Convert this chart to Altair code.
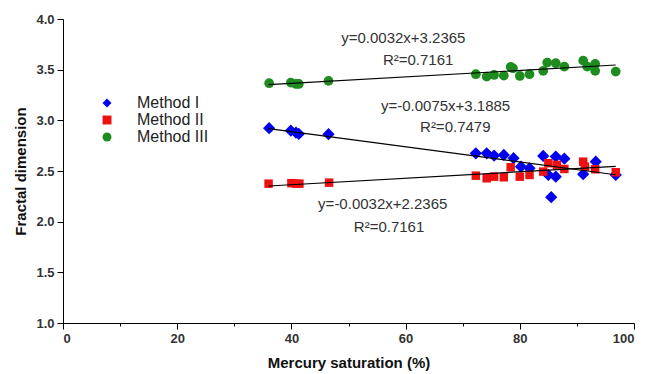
import altair as alt
import pandas as pd

# ---- data ----
x_I = [36.1, 39.9, 40.8, 41.3, 46.5, 72.3, 74.2, 75.5, 77.2, 78.9, 80.2, 81.7,
       84.1, 85.0, 86.3, 86.3, 87.8, 85.5, 91.1, 93.3, 96.8]
y_I = [2.922, 2.898, 2.879, 2.866, 2.863, 2.675, 2.675, 2.652, 2.658, 2.626, 2.543, 2.527,
       2.649, 2.461, 2.642, 2.444, 2.622, 2.241, 2.468, 2.592, 2.461]

x_II = [36.0, 40.0, 40.8, 41.4, 46.6, 72.3, 74.2, 75.5, 77.2, 78.4, 80.0, 81.7,
        84.1, 85.0, 86.5, 87.8, 91.1, 91.4, 93.2, 96.8]
y_II = [2.375, 2.380, 2.375, 2.375, 2.385, 2.454, 2.428, 2.444, 2.438, 2.537, 2.444, 2.461,
        2.494, 2.577, 2.560, 2.520, 2.592, 2.543, 2.517, 2.488]

x_III = [36.1, 39.9, 40.8, 41.3, 46.5, 72.3, 74.2, 75.5, 77.2, 78.4, 78.8, 80.0, 81.7,
         84.1, 84.8, 86.3, 87.8, 91.1, 91.8, 93.2, 93.2, 96.8]
y_III = [3.366, 3.372, 3.359, 3.359, 3.389, 3.455, 3.431, 3.448, 3.441, 3.527, 3.514, 3.438, 3.455,
         3.488, 3.570, 3.564, 3.530, 3.589, 3.530, 3.557, 3.488, 3.481]

methods = ["Method I", "Method II", "Method III"]
colors = ["#0000EE", "#EE1111", "#1E8C1E"]
shapes = ["diamond", "square", "circle"]
sizes = [150, 72, 95]

# fitted lines (endpoints)
fit_method = ["Method I", "Method I", "Method II", "Method II", "Method III", "Method III"]
fit_x = [36.0, 96.8, 36.0, 96.8, 36.0, 96.8]
fit_y = [2.919, 2.463, 2.352, 2.546, 3.352, 3.546]

# equation labels
eq_text = ["y=0.0032x+3.2365", "R²=0.7161",
           "y=-0.0075x+3.1885", "R²=0.7479",
           "y=-0.0032x+2.2365", "R²=0.7161"]
eq_x = [59.6, 62.2, 67.0, 68.7, 56.0, 57.1]
eq_y = [3.813, 3.596, 3.142, 2.935, 2.175, 1.948]

series = [(x_I, y_I), (x_II, y_II), (x_III, y_III)]
fits = pd.DataFrame({"x": fit_x, "y": fit_y, "m": fit_method})
eqs = pd.DataFrame({"x": eq_x, "y": eq_y, "t": eq_text})

FONT = "Liberation Sans"

xscale = alt.Scale(domain=[0, 100], nice=False, zero=False)
yscale = alt.Scale(domain=[1, 4], nice=False, zero=False)

xaxis = alt.Axis(
    title="Mercury saturation (%)",
    values=list(range(0, 101, 10)),
    labelExpr="datum.value % 20 === 0 ? datum.label : ''",
    tickSize={"condition": {"test": "datum.value % 20 === 0", "value": 6}, "value": 3},
    grid=False, labelOverlap=False, format="d",
)
yaxis = alt.Axis(
    title="Fractal dimension",
    values=[1 + 0.25 * i for i in range(13)],
    labelExpr="datum.value % 0.5 === 0 ? format(datum.value, '.1f') : ''",
    tickSize={"condition": {"test": "datum.value % 0.5 === 0", "value": 6}, "value": 3},
    grid=False, labelOverlap=False,
)

color_enc = alt.Color("m:N", scale=alt.Scale(domain=methods, range=colors),
                      legend=alt.Legend(title=None, orient="none", legendX=36, legendY=76,
                                        labelFont=FONT, labelFontSize=16, labelColor="#222",
                                        labelOffset=22, rowPadding=1, symbolSize=80,
                                        symbolStrokeWidth=0))
shape_enc = alt.Shape("m:N", scale=alt.Scale(domain=methods, range=shapes), legend=None)

layers = []
for (xs, ys), m, sz in zip(series, methods, sizes):
    df = pd.DataFrame({"x": xs, "y": ys, "m": m})
    layers.append(
        alt.Chart(df).mark_point(filled=True, opacity=1, strokeWidth=0, size=sz).encode(
            x=alt.X("x:Q", scale=xscale, axis=xaxis),
            y=alt.Y("y:Q", scale=yscale, axis=yaxis),
            color=color_enc,
            shape=shape_enc,
        )
    )

lines = alt.Chart(fits).mark_line(color="black", strokeWidth=1.2).encode(
    x="x:Q", y="y:Q", detail="m:N"
)

texts = alt.Chart(eqs).mark_text(font=FONT, fontSize=15, color="#333").encode(
    x="x:Q", y="y:Q", text="t:N"
)

chart = alt.layer(*layers, lines, texts).properties(
    width=571, height=304,
    autosize=alt.AutoSizeParams(type="none"),
    padding={"left": 63, "top": 19, "right": 12, "bottom": 51},
).configure_view(stroke=None).configure_axis(
    domainColor="black", tickColor="black", labelColor="#333",
    labelFont=FONT, labelFontSize=13, labelFontWeight="bold",
    titleFont=FONT, titleFontSize=15, titleFontWeight="bold", titleColor="#111",
    domainWidth=1, tickWidth=1,
).configure_axisX(titlePadding=10, labelPadding=3).configure_axisY(titlePadding=7, labelPadding=3)

chart.save("out.html", embed_options={"renderer": "svg", "actions": False})
